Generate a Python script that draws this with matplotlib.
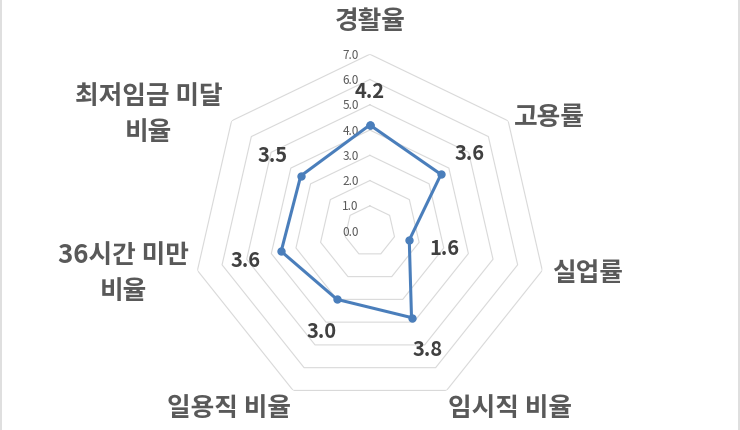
import numpy as np
import matplotlib
matplotlib.use("Agg")
import matplotlib.pyplot as plt
from matplotlib.lines import Line2D

plt.rcParams['font.family'] = ['Noto Sans CJK KR', 'DejaVu Sans']

categories = ['경활율', '고용률', '실업률', '임시직 비율', '일용직 비율',
              '36시간 미만\n비율', '최저임금 미달\n비율']
values = [4.2, 3.6, 1.6, 3.8, 3.0, 3.6, 3.5]
ring_levels = [0, 1, 2, 3, 4, 5, 6, 7]
tick_labels = ['0.0', '1.0', '2.0', '3.0', '4.0', '5.0', '6.0', '7.0']

LINE_COLOR = '#4A7EBB'
GRID_COLOR = '#D9D9D9'
TEXT_COLOR = '#595959'
LABEL_COLOR = '#404040'

n = len(categories)
angles = np.arange(n) * 2 * np.pi / n
closed = np.append(angles, angles[0])

fig = plt.figure(figsize=(7.4, 4.31), dpi=100)
ax = fig.add_axes([0.2608, 0.051, 0.478, 0.821], projection='polar')
ax.set_theta_offset(np.pi / 2)
ax.set_theta_direction(-1)
ax.set_ylim(0, 7)
ax.set_xticks([])
ax.set_yticks([])
ax.grid(False)
ax.spines['polar'].set_visible(False)
ax.patch.set_alpha(0)

# heptagon rings
for r in ring_levels[1:]:
    ax.plot(closed, [r] * (n + 1), color=GRID_COLOR, lw=0.8, zorder=1)

# scale labels along the top axis
for r, t in zip(ring_levels, tick_labels):
    ax.annotate(t, xy=(0, r), xytext=(-8, 0), textcoords='offset points',
                ha='right', va='center', fontsize=8.5, color=TEXT_COLOR)

# data series
vals_closed = values + values[:1]
ax.plot(closed, vals_closed, color=LINE_COLOR, lw=2.2, marker='o',
        markersize=5, zorder=3, clip_on=False)

# data labels, pushed radially outward
for a, v in zip(angles, values):
    ax.annotate(f'{v:.1f}', xy=(a, v),
                xytext=(26 * np.sin(a), 25 * np.cos(a)),
                textcoords='offset points', ha='center', va='center',
                fontsize=14.5, fontweight='bold', color=LABEL_COLOR)

# category labels
cat_pos = [
    (8.35, 'center', 'center', 'center'),
    (7.3, 'left', 'center', 'center'),
    (7.4, 'left', 'center', 'center'),
    (7.15, 'left', 'top', 'center'),
    (7.15, 'right', 'top', 'center'),
    (7.35, 'right', 'center', 'center'),
    (7.45, 'right', 'center', 'center'),
]
for a, name, (r, ha, va, ma) in zip(angles, categories, cat_pos):
    ax.text(a, r, name, ha=ha, va=va, multialignment=ma, fontsize=18.5,
            fontweight='bold', color=TEXT_COLOR, linespacing=1.45)

# thin chart border on left/right edges
fig.add_artist(Line2D([0.0007, 0.0007], [0, 1], color='#D9D9D9', lw=1.2))
fig.add_artist(Line2D([0.9993, 0.9993], [0, 1], color='#D9D9D9', lw=1.2))

fig.savefig('out.png', dpi=100)
